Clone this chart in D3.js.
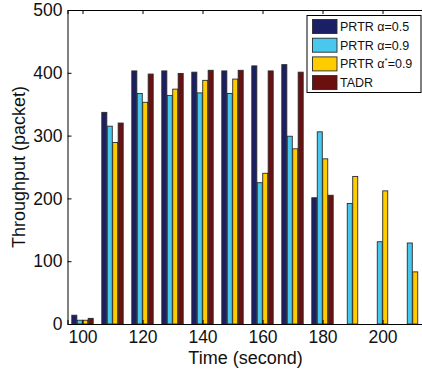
<!DOCTYPE html>
<html>
<head>
<meta charset="utf-8">
<script src="https://cdn.jsdelivr.net/npm/d3@7"></script>
<style>
  body { margin: 0; background: #fff; }
  svg { display: block; font-family: "Liberation Sans", Arial, sans-serif; }
</style>
</head>
<body>
<div id="chart"></div>
<script>
const times = [100, 110, 120, 130, 140, 150, 160, 170, 180, 190, 200, 210];
const seriesNames = ['PRTR α=0.5', 'PRTR α=0.9', 'PRTR α*=0.9', 'TADR'];
const prtr05 = [14, 337, 403, 403, 401, 403, 411, 413, 201, 0, 0, 0];
const prtr09 = [6, 315, 367, 364, 368, 367, 225, 299, 306, 192, 131, 129];
const prtrStar = [6, 289, 353, 374, 388, 390, 240, 279, 263, 235, 212, 83];
const tadr = [9, 320, 398, 399, 404, 404, 403, 401, 205, 0, 0, 0];
const colors = ['#1b1f66', '#48c8ec', '#ffcc00', '#6b0f0f'];
const yTicks = [0, 100, 200, 300, 400, 500];
const xTicks = [100, 120, 140, 160, 180, 200];

const series = [prtr05, prtr09, prtrStar, tadr];

const margin = { top: 10, left: 67.5 },
  W = 422, H = 370,
  plotW = 360, plotH = 314;

const svg = d3.select('#chart').append('svg')
  .attr('width', W)
  .attr('height', H);

const g = svg.append('g')
  .attr('transform', 'translate(' + margin.left + ',' + margin.top + ')');

let x = d3.scaleLinear().domain([95, 215]).range([0, plotW]);
let y = d3.scaleLinear().domain([0, 500]).range([plotH, 0]);

// bar slots inside each group (MATLAB style grouping)
const slot = 10 * 4 / 5.5 / 4;
const barW = slot * 0.92;

series.forEach(function (vals, i) {
  g.selectAll('.bar' + i)
    .data(times.map((t, j) => ({ t: t, v: vals[j] })).filter(d => d.v > 0))
    .enter()
    .append('rect')
    .attr('x', d => x(d.t + (i - 1.5) * slot - barW / 2))
    .attr('y', d => y(d.v))
    .attr('width', x(95 + barW) - x(95))
    .attr('height', d => y(0) - y(d.v))
    .attr('fill', colors[i])
    .attr('stroke', '#2a2a2a')
    .attr('stroke-width', 0.9);
});

const fontSize = 18;

// left axis
const yAxis = g.append('g')
  .call(d3.axisLeft(y).tickValues(yTicks).tickSize(-4).tickPadding(5).tickFormat(d3.format('d')));

// bottom axis
const xAxis = g.append('g')
  .attr('transform', 'translate(0,' + plotH + ')')
  .call(d3.axisBottom(x).tickValues(xTicks).tickSize(-4).tickPadding(7));

// top axis (no labels)
const topAxis = g.append('g')
  .call(d3.axisTop(x).tickValues(xTicks).tickSize(-4).tickFormat(''));

[yAxis, xAxis, topAxis].forEach(a => {
  a.selectAll('path').attr('stroke', '#000').attr('stroke-width', 1);
  a.selectAll('line').attr('stroke', '#000');
  a.selectAll('text')
    .style('font-size', '17.5px')
    .style('font-family', '"Liberation Sans", Arial, sans-serif')
    .attr('fill', '#111');
});

// axis titles
svg.append('text')
  .attr('x', margin.left + plotW / 2 - 2)
  .attr('y', 364)
  .style('text-anchor', 'middle')
  .style('font-size', fontSize + 'px')
  .attr('fill', '#111')
  .text('Time (second)');

svg.append('text')
  .attr('transform', 'translate(25,' + (margin.top + plotH / 2) + ') rotate(-90)')
  .style('text-anchor', 'middle')
  .style('font-size', fontSize + 'px')
  .attr('fill', '#111')
  .text('Throughput (packet)');

// legend
const legend = svg.append('g').attr('transform', 'translate(307,15.5)');
legend.append('rect')
  .attr('width', 114)
  .attr('height', 77)
  .attr('fill', '#fff')
  .attr('stroke', '#000')
  .attr('stroke-width', 1);

seriesNames.forEach(function (name, i) {
  const row = legend.append('g').attr('transform', 'translate(0,' + (4 + i * 18.7) + ')');
  row.append('rect')
    .attr('x', 5.5)
    .attr('y', 0)
    .attr('width', 24.5)
    .attr('height', 14)
    .attr('fill', colors[i])
    .attr('stroke', '#2a2a2a')
    .attr('stroke-width', 0.9);
  const t = row.append('text')
    .attr('x', 33)
    .attr('y', 11.5)
    .style('font-size', '12.5px')
    .attr('fill', '#111');
  if (name.indexOf('α*') >= 0) {
    t.append('tspan').text('PRTR α');
    t.append('tspan').attr('dy', -5).style('font-size', '8px').text('*');
    t.append('tspan').attr('dy', 5).text('=0.9');
  } else {
    t.text(name);
  }
});
</script>
</body>
</html>
